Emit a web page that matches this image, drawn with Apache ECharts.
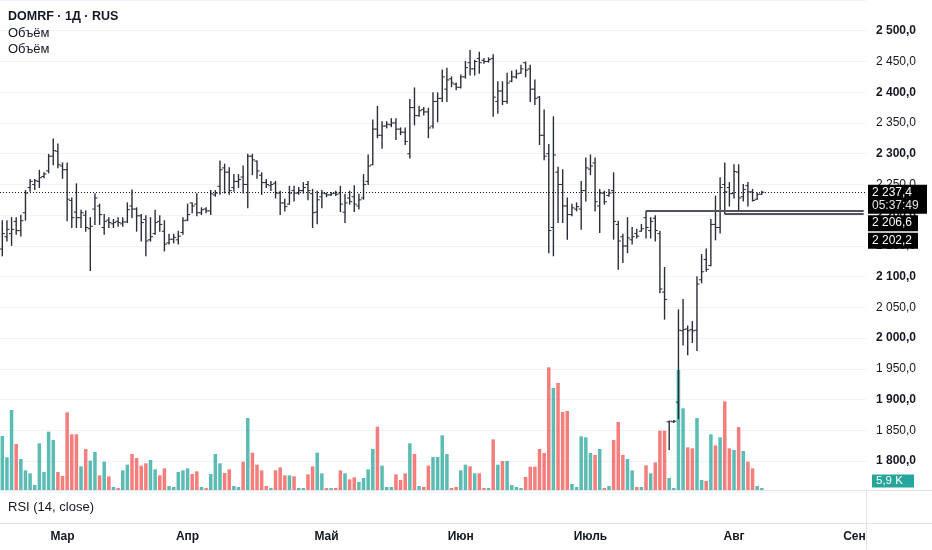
<!DOCTYPE html>
<html><head><meta charset="utf-8">
<script src="https://cdn.jsdelivr.net/npm/echarts@6/dist/echarts.min.js"></script>
<style>html,body{margin:0;padding:0;background:#fff}#c{width:932px;height:550px}</style>
</head><body><div id="c"></div>
<script>
// ---- data (daily bars, index 0 = first visible bar) ----
const opens = [2145,2165,2170,2190,2175,2204,2245,2250,2255,2263,2272,2296,2304,2280,2274,2224,2205,2196,2200,2178,
2210,2215,2180,2192,2186,2190,2186,2189,2215,2210,2199,2193,2160,2170,2190,2174,2155,2161,2160,2172,
2192,2220,2218,2204,2210,2207,2233,2247,2277,2270,2245,2255,2262,2250,2296,2288,2265,2253,2248,2252,
2236,2220,2218,2240,2236,2240,2250,2235,2205,2230,2235,2233,2236,2236,2205,2228,2230,2215,2228,2255,
2282,2340,2330,2345,2347,2350,2340,2335,2300,2375,2362,2372,2368,2345,2385,2390,2405,2422,2413,2408,
2425,2448,2438,2455,2452,2450,2455,2385,2402,2385,2418,2425,2431,2448,2438,2405,2392,2330,2300,2180,
2270,2250,2215,2201,2210,2210,2240,2275,2285,2215,2236,2232,2240,2185,2165,2150,2160,2170,2174,2196,
2175,2195,2170,2075,1864,1864,1896,2012,2015,2014,2013,2095,2128,2118,2185,2180,2250,2245,2235,2270,
2230,2248,2238,2226,2234];
const highs = [2191,2191,2196,2196,2200,2240,2258,2258,2273,2269,2299,2324,2316,2285,2285,2228,2251,2208,2207,2196,
2235,2218,2201,2196,2193,2196,2196,2220,2241,2212,2201,2199,2196,2208,2199,2191,2169,2169,2174,2196,
2218,2220,2235,2212,2212,2240,2240,2288,2283,2277,2266,2266,2280,2299,2299,2288,2269,2258,2255,2255,
2239,2226,2247,2247,2245,2253,2255,2242,2239,2240,2236,2237,2239,2247,2234,2239,2248,2234,2266,2298,
2355,2377,2352,2352,2357,2357,2342,2342,2388,2407,2377,2375,2374,2399,2399,2436,2439,2425,2415,2428,
2450,2468,2452,2465,2455,2456,2461,2417,2417,2431,2434,2436,2444,2449,2444,2420,2393,2371,2315,2360,
2278,2274,2228,2218,2220,2255,2293,2298,2293,2242,2239,2242,2269,2190,2169,2196,2180,2177,2185,2206.6,
2196,2199,2174,2115,1865,1866,2046,2063,2020,2027,2100,2136,2145,2193,2231,2261,2285,2253,2282,2282,
2250,2253,2242,2236,2239];
const lows = [2134,2158,2151,2169,2166,2192,2239,2242,2245,2261,2269,2282,2277,2260,2191,2180,2180,2180,2174,2110,
2185,2185,2169,2180,2180,2182,2182,2188,2196,2174,2158,2134,2158,2169,2174,2142,2153,2155,2153,2169,
2191,2204,2199,2201,2204,2201,2231,2234,2236,2234,2239,2245,2236,2212,2266,2260,2234,2245,2240,2228,
2201,2207,2218,2223,2234,2236,2225,2180,2186,2212,2230,2232,2232,2206,2188,2218,2206,2210,2226,2250,
2282,2326,2309,2342,2344,2323,2331,2315,2293,2347,2361,2363,2326,2342,2352,2385,2385,2409,2404,2407,
2423,2428,2428,2431,2447,2449,2361,2366,2380,2382,2417,2423,2431,2425,2385,2380,2315,2290,2139,2134,
2188,2188,2161,2199,2207,2177,2223,2266,2207,2172,2218,2231,2161,2112,2123,2139,2153,2163,2174,2163,
2163,2158,2074,2031,1819,1863,1869,1989,1973,1993,1980,2090,2109,2118,2160,2171,2202.2,2215,2228,2207,
2223,2215,2223,2226,2234];
const closes = [2170,2177,2177,2175,2191,2236,2255,2256,2261,2267,2296,2305,2282,2274,2226,2196,2196,2204,2180,2182,
2228,2201,2190,2188,2188,2188,2189,2209,2210,2199,2188,2158,2165,2188,2185,2153,2161,2164,2166,2191,
2201,2215,2204,2209,2207,2235,2236,2274,2270,2240,2255,2258,2250,2296,2290,2272,2253,2250,2250,2236,
2220,2214,2236,2236,2240,2245,2240,2204,2225,2236,2233,2235,2234,2218,2220,2222,2218,2225,2250,2280,
2340,2330,2345,2348,2350,2340,2335,2320,2375,2362,2370,2368,2342,2385,2390,2425,2420,2415,2408,2425,
2440,2438,2450,2448,2450,2453,2392,2402,2385,2415,2425,2430,2438,2436,2405,2390,2330,2296,2175,2298,
2250,2215,2201,2212,2214,2240,2277,2280,2222,2236,2222,2236,2190,2158,2150,2163,2165,2166,2178,2180,
2190,2175,2080,2063,1865,1865,2013,2014,2012,2012,2088,2108,2112,2185,2180,2245,2238,2235,2271,2228,
2242,2238,2224,2234,2237.4];
const volumes = [162,98,240,138,93,59,50,15,140,54,175,150,54,42,233,167,167,71,123,88,
114,44,85,41,9,6,59,76,108,96,73,80,90,62,44,65,12,9,54,59,
65,48,56,9,6,48,108,80,51,62,12,9,85,216,112,76,59,12,6,59,
68,44,44,41,6,6,47,71,112,50,6,6,6,59,50,32,38,24,36,62,
123,190,73,9,9,47,30,50,140,108,12,9,73,99,99,164,108,6,9,59,
76,71,50,50,6,6,152,76,87,87,15,9,6,39,70,70,123,111,368,306,
321,234,237,18,9,161,158,111,105,123,6,12,150,204,105,93,59,9,9,74,
50,83,178,178,36,6,360,245,128,125,216,30,27,167,134,158,266,125,120,189,
117,85,65,12,5.9];
const slotCount = 187;                       // visible day slots incl. empty future
const monthIndex  = [13, 40, 70, 99, 127, 158, 184];
const monthLabels = ['Мар','Апр','Май','Июн','Июль','Авг','Сен'];
const priceMin = 1750, priceMax = 2550, priceStep = 50;
const lastPrice = 2237.4;
const sessionTime = '05:37:49';
const levelStarts = [139, 156];
const levelValues = [2206.6, 2202.2];

// ---- helpers ----
const FONT = "'Liberation Sans', Arial, sans-serif";
const INK = '#131722';
const UP = 'rgba(38,166,154,0.75)', DOWN = 'rgba(239,83,80,0.75)';
function fmt(v){
  const s = v.toFixed(1).split('.');
  return s[0].replace(/\B(?=(\d{3})+(?!\d))/g, ' ') + ',' + s[1];
}
const cats = Array.from({length: slotCount}, (_, i) => 'd' + i);
const ohlc = opens.map((o, i) => [i, o, highs[i], lows[i], closes[i]]);
const vol = volumes.map((v, i) => ({value: v, itemStyle: {color: closes[i] >= opens[i] ? UP : DOWN}}));

function renderOHLC(params, api){
  const i = api.value(0);
  const po = api.coord([i, api.value(1)]);
  const ph = api.coord([i, api.value(2)]);
  const pl = api.coord([i, api.value(3)]);
  const pc = api.coord([i, api.value(4)]);
  const x = po[0], t = 2.6;
  const st = {stroke: '#2a2e39', lineWidth: 1.4};
  const sk = {stroke: '#2a2e39', lineWidth: 1};
  return {type: 'group', children: [
    {type: 'line', shape: {x1: x, y1: ph[1] - 0.5, x2: x, y2: pl[1] + 0.5}, style: st},
    {type: 'line', shape: {x1: x - t, y1: po[1], x2: x, y2: po[1]}, style: sk},
    {type: 'line', shape: {x1: x, y1: pc[1], x2: x + t, y2: pc[1]}, style: sk}
  ]};
}

const levelLines = levelValues.map((v, k) => [
  {coord: [levelStarts[k], v]}, {coord: [slotCount - 1, v]}
]);

const chart = echarts.init(document.getElementById('c'), null, {renderer: 'canvas'});
chart.setOption({
  animation: false,
  backgroundColor: '#ffffff',
  grid: [
    {left: 0, right: 66, top: -1.9, height: 493.8},
    {left: 0, right: 66, top: 250, height: 240}
  ],
  xAxis: [
    {type: 'category', gridIndex: 0, data: cats, boundaryGap: true, show: false},
    {type: 'category', gridIndex: 1, data: cats, boundaryGap: true,
     axisLine: {show: false}, axisTick: {show: false}, splitLine: {show: false},
     axisLabel: {
       margin: 41, fontSize: 12, fontWeight: 'bold', color: INK, fontFamily: FONT,
       interval: (idx) => monthIndex.indexOf(idx) >= 0,
       formatter: (val, idx) => { const k = monthIndex.indexOf(idx); return k >= 0 ? monthLabels[k] : ''; }
     }}
  ],
  yAxis: [
    {type: 'value', gridIndex: 0, position: 'right', min: priceMin, max: priceMax, interval: priceStep,
     axisLine: {show: false}, axisTick: {show: false},
     splitLine: {show: true, lineStyle: {color: '#f0f3fa', width: 1}},
     axisLabel: {
       margin: 10, fontFamily: FONT,
       formatter: (v) => (v < 1800 || v > 2500) ? '' : (v % 100 === 0 ? '{b|' + fmt(v) + '}' : '{r|' + fmt(v) + '}'),
       rich: {
         b: {fontWeight: 'bold', fontSize: 12, color: INK, fontFamily: FONT},
         r: {fontSize: 12, color: INK, fontFamily: FONT}
       }
     }},
    {type: 'value', gridIndex: 1, min: 0, max: 720, show: false}
  ],
  series: [
    {type: 'bar', xAxisIndex: 1, yAxisIndex: 1, data: vol, barWidth: '76%', silent: true, z: 1},
    {type: 'custom', xAxisIndex: 0, yAxisIndex: 0, data: ohlc, renderItem: renderOHLC,
     encode: {x: 0, y: [1, 2, 3, 4]}, silent: true, z: 3,
     markLine: {
       silent: true, symbol: 'none', animation: false, label: {show: false},
       data: [
         {yAxis: lastPrice, lineStyle: {type: [1, 2], color: INK, width: 1}},
         ...levelLines.map(l => [Object.assign({lineStyle: {type: 'solid', color: '#50535e', width: 2}}, l[0]), l[1]])
       ]
     }}
  ]
});

// ---- overlay labels placed from the scales ----
const yLast = chart.convertToPixel({yAxisIndex: 0}, lastPrice);
const yL1 = chart.convertToPixel({yAxisIndex: 0}, levelValues[0]);
const yL2 = chart.convertToPixel({yAxisIndex: 0}, levelValues[1]);
const lastVol = volumes[volumes.length - 1];
let yVol = chart.convertToPixel({yAxisIndex: 1}, lastVol);
yVol = Math.min(yVol, 490 - 9);
const volText = lastVol.toFixed(1).replace('.', ',') + ' K';

const txt = (x, y, text, font, fill) => ({type: 'text', z: 100, style: {x, y, text, font, fill, textVerticalAlign: 'middle', textAlign: 'left'}});
const rect = (x, y, w, h, fill) => ({type: 'rect', z: 99, shape: {x, y, width: w, height: h}, style: {fill}});
const hline = (y, x1, x2) => ({type: 'line', z: 101, shape: {x1, y1: y, x2, y2: y}, style: {stroke: '#e0e3eb', lineWidth: 1}});

chart.setOption({graphic: [
  txt(8, 16.5, 'DOMRF · 1Д · RUS', 'bold 12.5px ' + FONT, INK),
  txt(8, 33, 'Объём', '13px ' + FONT, INK),
  txt(8, 49, 'Объём', '13px ' + FONT, INK),
  rect(866.5, 524, 66, 26, '#ffffff'),
  hline(490.5, 0, 932),
  hline(523.5, 0, 932),
  {type: 'line', z: 101, shape: {x1: 866.5, y1: 490, x2: 866.5, y2: 550}, style: {stroke: '#e0e3eb', lineWidth: 1}},
  txt(8, 507, 'RSI (14, close)', '13px ' + FONT, INK),
  rect(868, yLast - 7.5, 59, 29, '#000000'),
  txt(872, yLast + 0.5, fmt(lastPrice), '12px ' + FONT, '#ffffff'),
  txt(872, yLast + 13.5, sessionTime, '12px ' + FONT, '#e0e3eb'),
  rect(868, yL1 + 4, 50, 16, '#000000'),
  txt(872, yL1 + 12, fmt(levelValues[0]), '12px ' + FONT, '#ffffff'),
  rect(868, yL2 + 19, 50, 16, '#000000'),
  txt(872, yL2 + 27, fmt(levelValues[1]), '12px ' + FONT, '#ffffff'),
  rect(872, yVol - 6.5, 42, 13, '#26a69a'),
  txt(876, yVol, volText, '11.5px ' + FONT, '#ffffff')
]});
</script>
</body></html>
